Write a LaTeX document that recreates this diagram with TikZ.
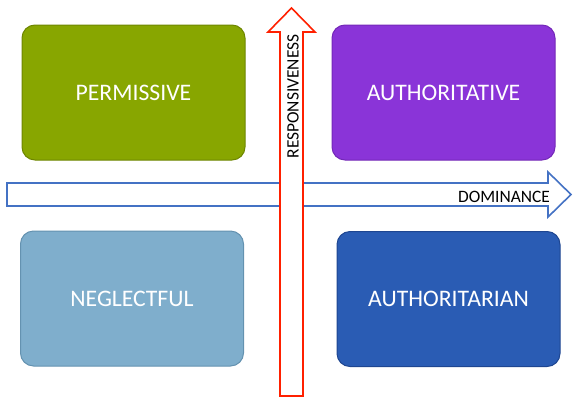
\documentclass[tikz,border=0pt]{standalone}
\usepackage{fontspec}
\setmainfont{Carlito}
\usepackage{tikz}

\definecolor{permfill}{RGB}{136,166,0}
\definecolor{permline}{RGB}{110,134,0}
\definecolor{authvfill}{RGB}{138,52,216}
\definecolor{authvline}{RGB}{116,40,184}
\definecolor{neglfill}{RGB}{127,174,204}
\definecolor{neglline}{RGB}{100,146,176}
\definecolor{authrfill}{RGB}{42,92,180}
\definecolor{authrline}{RGB}{30,70,145}
\definecolor{domline}{RGB}{68,114,196}
\definecolor{respline}{RGB}{255,32,0}

\tikzset{
  stylebox/.style={rounded corners=13pt, line width=1pt, minimum width=223pt,
    minimum height=135pt, text=white, font=\fontsize{23.7}{28}\selectfont},
  axislabel/.style={font=\fontsize{17.4}{21}\selectfont, inner sep=0pt}
}

\begin{document}
\begin{tikzpicture}[x=1pt, y=-1pt]
        \useasboundingbox (0, 0) rectangle (583, 407);
        % the four styles
        \node (PERM) at (133.5, 92.5) [stylebox, fill=permfill, draw=permline] {PERMISSIVE};
        \node (AUTHV) at (443.5, 92.5) [stylebox, fill=authvfill, draw=authvline] {AUTHORITATIVE};
        \node (NEGL) at (132, 298.5) [stylebox, fill=neglfill, draw=neglline] {NEGLECTFUL};
        \node (AUTHR) at (448.5, 299) [stylebox, fill=authrfill, draw=authrline] {AUTHORITARIAN};
        % dominance axis
        \draw [domline, line width=1.6pt, fill=white] (7, 183) -- (548, 183) -- (548, 172)
          -- (571, 194.5) -- (548, 217) -- (548, 206) -- (7, 206) -- cycle;
        \node (DOM) at (504, 197) [axislabel] {DOMINANCE};
        % responsiveness axis
        \draw [respline, line width=1.6pt, fill=white] (280, 396) -- (280, 32) -- (268, 32)
          -- (291.5, 8) -- (315, 32) -- (303, 32) -- (303, 396) -- cycle;
        \node (RESP) at (293, 96.5) [axislabel, rotate=90] {RESPONSIVENESS};
\end{tikzpicture}
\end{document}
